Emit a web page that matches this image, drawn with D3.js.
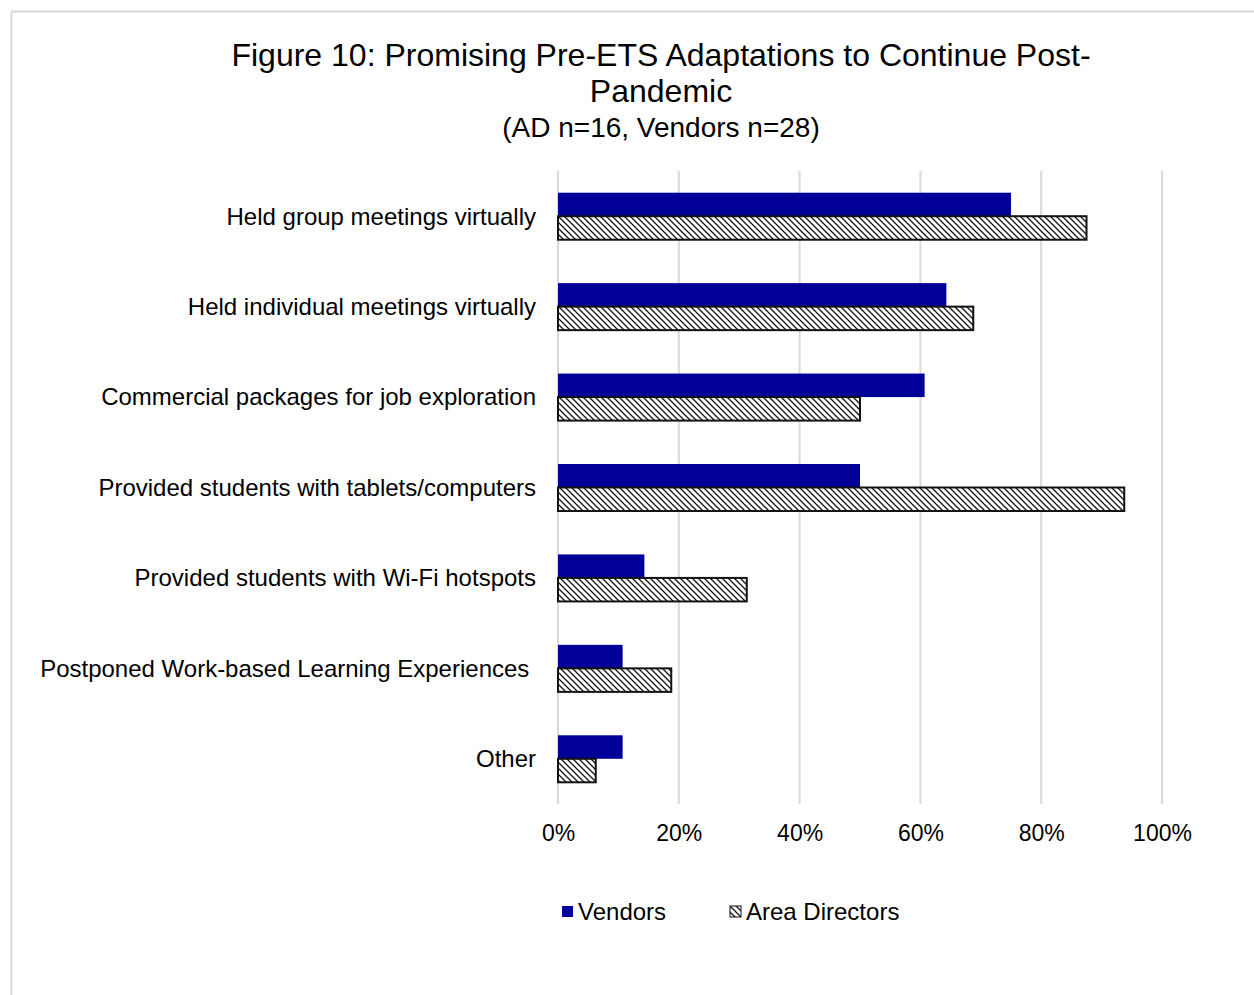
<!DOCTYPE html>
<html>
<head>
<meta charset="utf-8">
<script src="https://cdn.jsdelivr.net/npm/d3@7"></script>
<style>
  body { margin: 0; background: #fff; }
  text { font-family: Arial, "Liberation Sans", sans-serif; fill: #000; }
</style>
</head>
<body>
<svg id="chart"></svg>
<script>
var categories = [
  "Held group meetings virtually",
  "Held individual meetings virtually",
  "Commercial packages for job exploration",
  "Provided students with tablets/computers",
  "Provided students with Wi-Fi hotspots",
  "Postponed Work-based Learning Experiences ",
  "Other"
];
var vendors = [0.75, 0.643, 0.607, 0.5, 0.143, 0.107, 0.107];
var areaDirectors = [0.875, 0.6875, 0.5, 0.9375, 0.3125, 0.1875, 0.0625];
var seriesNames = ["Vendors", "Area Directors"];
var xTicks = [0, 0.2, 0.4, 0.6, 0.8, 1];
var titleLines = ["Figure 10: Promising Pre-ETS Adaptations to Continue Post-", "Pandemic"];
var subtitle = "(AD n=16, Vendors n=28)";

document.addEventListener("DOMContentLoaded", function() {
  var width = 1254, height = 995;
  var plot = { left: 558, right: 1162, top: 171, bottom: 804 };

  var svg = d3.select("#chart")
    .attr("width", width)
    .attr("height", height);

  svg.append("rect")
    .attr("width", width)
    .attr("height", height)
    .attr("fill", "#fff");

  // hatch for area directors
  var pattern = svg.append("defs")
    .append("pattern")
      .attr("id", "hatch")
      .attr("patternUnits", "userSpaceOnUse")
      .attr("width", 6)
      .attr("height", 6);
  pattern.append("rect").attr("width", 6).attr("height", 6).attr("fill", "#fff");
  pattern.append("path")
    .attr("d", "M0,0L6,6M-1,5L1,7M5,-1L7,1")
    .attr("stroke", "#111")
    .attr("stroke-width", 1.25);

  // chart frame (cut off at right and bottom)
  svg.append("path")
    .attr("d", "M11.5," + height + "V11.5H" + width)
    .attr("fill", "none")
    .attr("stroke", "#d9d9d9")
    .attr("stroke-width", 2);

  var title = svg.append("g");
  title.selectAll("text.title")
    .data(titleLines)
    .enter()
    .append("text")
      .attr("class", "title")
      .attr("x", 661)
      .attr("y", (d, i) => 66 + i * 36)
      .attr("text-anchor", "middle")
      .style("font-size", "32px")
      .text(d => d);
  title.append("text")
    .attr("x", 661)
    .attr("y", 137)
    .attr("text-anchor", "middle")
    .style("font-size", "28px")
    .text(subtitle);

  var xScale = d3.scaleLinear()
    .domain([0, 1])
    .range([plot.left, plot.right]);

  var yScale = d3.scaleBand()
    .domain(categories)
    .range([plot.top, plot.bottom])
    .paddingInner(0.48)
    .paddingOuter(0.24);

  var sub = d3.scaleBand()
    .domain(seriesNames)
    .range([0, yScale.bandwidth()]);

  // gridlines
  svg.append("g")
    .selectAll("line")
    .data(xTicks)
    .enter()
    .append("line")
      .attr("x1", d => xScale(d))
      .attr("x2", d => xScale(d))
      .attr("y1", plot.top)
      .attr("y2", plot.bottom)
      .attr("stroke", "#d9d9d9")
      .attr("stroke-width", 2);

  // x axis labels
  var xAxis = svg.append("g")
    .attr("transform", "translate(0," + plot.bottom + ")")
    .call(d3.axisBottom(xScale)
      .tickValues(xTicks)
      .tickFormat(d3.format(".0%"))
      .tickSize(0)
      .tickPadding(21));
  xAxis.select(".domain").remove();
  xAxis.selectAll("text")
    .style("font-size", "23px")
    .style("font-family", "Arial, 'Liberation Sans', sans-serif")
    .attr("fill", "#000");

  // category labels
  svg.append("g")
    .selectAll("text")
    .data(categories)
    .enter()
    .append("text")
      .attr("x", 536)
      .attr("y", d => yScale(d) + yScale.bandwidth() / 2)
      .attr("dy", "0.35em")
      .attr("text-anchor", "end")
      .style("font-size", "24px")
      .style("white-space", "pre")
      .text(d => d);

  var rows = categories.map((c, i) => ({ cat: c, v: vendors[i], a: areaDirectors[i] }));

  svg.append("g")
    .selectAll("rect")
    .data(rows)
    .enter()
    .append("rect")
      .attr("x", xScale(0))
      .attr("y", d => yScale(d.cat) + sub("Vendors"))
      .attr("width", d => xScale(d.v) - xScale(0))
      .attr("height", sub.bandwidth())
      .attr("fill", "#000099");

  svg.append("g")
    .selectAll("rect")
    .data(rows)
    .enter()
    .append("rect")
      .attr("x", xScale(0))
      .attr("y", d => yScale(d.cat) + sub("Area Directors"))
      .attr("width", d => xScale(d.a) - xScale(0))
      .attr("height", sub.bandwidth())
      .attr("fill", "url(#hatch)")
      .attr("stroke", "#111")
      .attr("stroke-width", 2);

  // legend
  var legendX = [562, 730];
  var legend = svg.append("g")
    .selectAll("g")
    .data(seriesNames)
    .enter()
    .append("g")
      .attr("transform", (d, i) => "translate(" + legendX[i] + ",906)");
  legend.append("rect")
    .attr("width", 11)
    .attr("height", 11)
    .attr("fill", (d, i) => i === 0 ? "#000099" : "url(#hatch)")
    .attr("stroke", (d, i) => i === 0 ? "none" : "#111")
    .attr("stroke-width", 1);
  legend.append("text")
    .attr("x", 16)
    .attr("y", 6)
    .attr("dy", "0.35em")
    .style("font-size", "24px")
    .text(d => d);
});
</script>
</body>
</html>
